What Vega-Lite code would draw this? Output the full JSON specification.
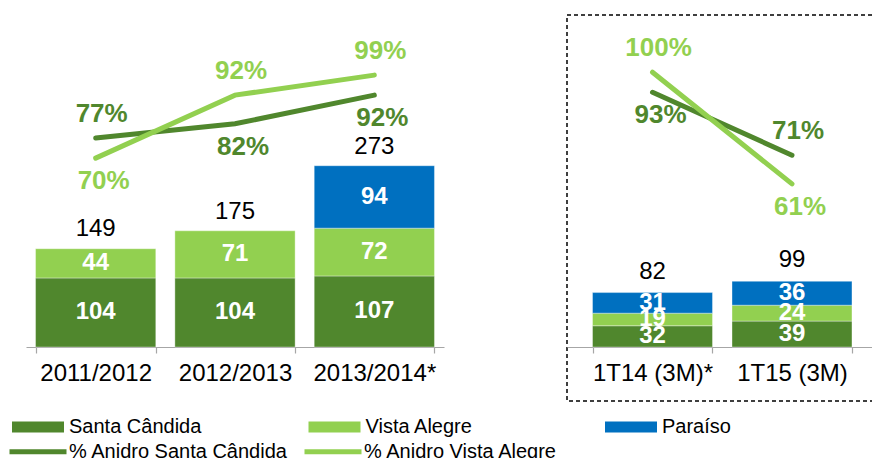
{
  "$schema": "https://vega.github.io/schema/vega-lite/v6.json",
  "padding": {"left": 25, "top": 14, "right": 0, "bottom": 6},
  "spacing": 122,
  "config": {
    "view": {"stroke": null},
    "font": "Liberation Sans",
    "axis": {"domainColor": "#A6A6A6", "domainWidth": 1.2, "tickColor": "#A6A6A6", "tickWidth": 1.2, "tickSize": 6, "tickBand": "extent", "labelFontSize": 24, "labelColor": "#000000", "labelPadding": 8, "labelAngle": 0, "grid": false, "labelFont": "Liberation Sans"},
    "legend": {"orient": "none", "title": null, "direction": "horizontal", "gridAlign": "all", "rowPadding": 2, "labelFontSize": 20, "labelFont": "Liberation Sans", "labelColor": "#000000", "labelLimit": 400, "symbolSize": 400, "labelOffset": 21, "padding": 0}
  },
  "datasets": {
    "bars": [
      {"section": "A", "period": "2011/2012", "series": "Santa Cândida", "value": 104},
      {"section": "A", "period": "2011/2012", "series": "Vista Alegre", "value": 44},
      {"section": "A", "period": "2012/2013", "series": "Santa Cândida", "value": 104},
      {"section": "A", "period": "2012/2013", "series": "Vista Alegre", "value": 71},
      {"section": "A", "period": "2013/2014*", "series": "Santa Cândida", "value": 107},
      {"section": "A", "period": "2013/2014*", "series": "Vista Alegre", "value": 72},
      {"section": "A", "period": "2013/2014*", "series": "Paraíso", "value": 94},
      {"section": "B", "period": "1T14 (3M)*", "series": "Santa Cândida", "value": 32},
      {"section": "B", "period": "1T14 (3M)*", "series": "Vista Alegre", "value": 19},
      {"section": "B", "period": "1T14 (3M)*", "series": "Paraíso", "value": 31},
      {"section": "B", "period": "1T15 (3M)", "series": "Santa Cândida", "value": 39},
      {"section": "B", "period": "1T15 (3M)", "series": "Vista Alegre", "value": 24},
      {"section": "B", "period": "1T15 (3M)", "series": "Paraíso", "value": 36}
    ],
    "totals": [
      {"section": "A", "period": "2011/2012", "total": 149},
      {"section": "A", "period": "2012/2013", "total": 175},
      {"section": "A", "period": "2013/2014*", "total": 273},
      {"section": "B", "period": "1T14 (3M)*", "total": 82},
      {"section": "B", "period": "1T15 (3M)", "total": 99}
    ],
    "pcts": [
      {"section": "A", "period": "2011/2012", "series": "% Anidro Santa Cândida", "pct": 77},
      {"section": "A", "period": "2011/2012", "series": "% Anidro Vista Alegre", "pct": 70},
      {"section": "A", "period": "2012/2013", "series": "% Anidro Santa Cândida", "pct": 82},
      {"section": "A", "period": "2012/2013", "series": "% Anidro Vista Alegre", "pct": 92},
      {"section": "A", "period": "2013/2014*", "series": "% Anidro Santa Cândida", "pct": 92},
      {"section": "A", "period": "2013/2014*", "series": "% Anidro Vista Alegre", "pct": 99},
      {"section": "B", "period": "1T14 (3M)*", "series": "% Anidro Santa Cândida", "pct": 93},
      {"section": "B", "period": "1T14 (3M)*", "series": "% Anidro Vista Alegre", "pct": 100},
      {"section": "B", "period": "1T15 (3M)", "series": "% Anidro Santa Cândida", "pct": 71},
      {"section": "B", "period": "1T15 (3M)", "series": "% Anidro Vista Alegre", "pct": 61}
    ]
  },
  "resolve": {"scale": {"fill": "shared", "stroke": "shared", "color": "shared"}, "legend": {"fill": "shared", "stroke": "shared"}},
  "hconcat": [
    {
      "width": 418,
      "height": 332,
      "view": {"stroke": null},
      "encoding": {
        "x": {"field": "period", "type": "nominal", "sort": ["2011/2012", "2012/2013", "2013/2014*"], "title": null, "scale": {"paddingInner": 0.137, "paddingOuter": 0.0685}}
      },
      "resolve": {"scale": {"y": "independent"}},
      "layer": [
        {
          "data": {"name": "bars"},
          "transform": [
            {"filter": "datum.section == 'A'"},
            {"calculate": "indexof(['Santa Cândida','Vista Alegre','Paraíso'], datum.series)", "as": "ord"},
            {"stack": "value", "groupby": ["period"], "sort": [{"field": "ord", "order": "ascending"}], "as": ["v0", "v1"]}
          ],
          "mark": {"type": "bar", "stroke": "white", "strokeWidth": 0.6, "strokeOpacity": 0.6},
          "encoding": {
            "y": {"field": "v1", "type": "quantitative", "scale": {"domain": [0, 500], "nice": false, "zero": false}, "axis": null},
            "y2": {"field": "v0"},
            "fill": {
              "field": "series", "type": "nominal",
              "scale": {"domain": ["Santa Cândida", "Vista Alegre", "Paraíso"], "range": ["#50872D", "#92D050", "#0070C0"]},
              "legend": {"legendX": 2, "legendY": 402, "columns": 3, "columnPadding": 106.5, "symbolType": "M-2.6,-0.55H2.6V0.55H-2.6Z", "symbolStrokeWidth": 0}
            }
          }
        },
        {
          "data": {"name": "bars"},
          "transform": [
            {"filter": "datum.section == 'A'"},
            {"calculate": "indexof(['Santa Cândida','Vista Alegre','Paraíso'], datum.series)", "as": "ord"},
            {"stack": "value", "groupby": ["period"], "sort": [{"field": "ord", "order": "ascending"}], "as": ["v0", "v1"]},
            {"calculate": "(datum.v0 + datum.v1) / 2", "as": "mid"}
          ],
          "mark": {"type": "text", "color": "white", "fontWeight": "bold", "fontSize": 24, "baseline": "middle"},
          "encoding": {
            "y": {"field": "mid", "type": "quantitative", "scale": {"domain": [0, 500], "nice": false, "zero": false}, "axis": null},
            "text": {"field": "value", "type": "quantitative"}
          }
        },
        {
          "data": {"name": "totals"},
          "transform": [{"filter": "datum.section == 'A'"}],
          "mark": {"type": "text", "color": "black", "fontSize": 24, "baseline": "alphabetic", "dy": -12},
          "encoding": {
            "y": {"field": "total", "type": "quantitative", "scale": {"domain": [0, 500], "nice": false, "zero": false}, "axis": null},
            "text": {"field": "total", "type": "quantitative"}
          }
        },
        {
          "data": {"name": "pcts"},
          "transform": [{"filter": "datum.section == 'A'"}],
          "mark": {"type": "line", "strokeWidth": 5, "strokeCap": "round"},
          "encoding": {
            "y": {"field": "pct", "type": "quantitative", "scale": {"domain": [4, 120], "nice": false, "zero": false}, "axis": null},
            "stroke": {
              "field": "series", "type": "nominal",
              "scale": {"domain": ["% Anidro Santa Cândida", "% Anidro Vista Alegre"], "range": ["#50872D", "#92D050"]},
              "legend": {"legendX": -0.5, "legendY": 424, "columns": 2, "columnPadding": 6, "labelOffset": 18.5, "symbolType": "M-2.85,0H2.85", "symbolStrokeWidth": 5, "symbolFillColor": "transparent"}
            }
          }
        },
        {
          "data": {"name": "pcts"},
          "transform": [
            {"filter": "datum.section == 'A'"},
            {"joinaggregate": [{"op": "max", "field": "pct", "as": "maxp"}], "groupby": ["period"]},
            {"filter": "datum.pct == datum.maxp"},
            {"calculate": "datum.pct + '%'", "as": "label"}
          ],
          "mark": {"type": "text", "fontSize": 26, "fontWeight": "bold", "baseline": "middle", "dy": -24, "dx": 6},
          "encoding": {
            "y": {"field": "pct", "type": "quantitative", "scale": {"domain": [4, 120], "nice": false, "zero": false}, "axis": null},
            "text": {"field": "label"},
            "color": {"field": "series", "type": "nominal", "scale": {"domain": ["% Anidro Santa Cândida", "% Anidro Vista Alegre"], "range": ["#50872D", "#92D050"]}, "legend": null}
          }
        },
        {
          "data": {"name": "pcts"},
          "transform": [
            {"filter": "datum.section == 'A'"},
            {"joinaggregate": [{"op": "max", "field": "pct", "as": "maxp"}], "groupby": ["period"]},
            {"filter": "datum.pct < datum.maxp"},
            {"calculate": "datum.pct + '%'", "as": "label"}
          ],
          "mark": {"type": "text", "fontSize": 26, "fontWeight": "bold", "baseline": "middle", "dy": 23, "dx": 8},
          "encoding": {
            "y": {"field": "pct", "type": "quantitative", "scale": {"domain": [4, 120], "nice": false, "zero": false}, "axis": null},
            "text": {"field": "label"},
            "color": {"field": "series", "type": "nominal", "legend": null}
          }
        }
      ]
    },
    {
      "width": 310.5,
      "height": 386,
      "view": {"stroke": "#000000", "strokeDash": [4, 3], "strokeWidth": 1.5},
      "encoding": {
        "x": {"field": "period", "type": "nominal", "sort": ["1T14 (3M)*", "1T15 (3M)"], "title": null, "scale": {"paddingInner": 0.14, "paddingOuter": 0.183}, "axis": {"offset": -54}}
      },
      "resolve": {"scale": {"y": "independent"}},
      "layer": [
        {
          "data": {"name": "bars"},
          "transform": [
            {"filter": "datum.section == 'B'"},
            {"calculate": "indexof(['Santa Cândida','Vista Alegre','Paraíso'], datum.series)", "as": "ord"},
            {"stack": "value", "groupby": ["period"], "sort": [{"field": "ord", "order": "ascending"}], "as": ["v0", "v1"]}
          ],
          "mark": {"type": "bar", "stroke": "white", "strokeWidth": 0.6, "strokeOpacity": 0.6},
          "encoding": {
            "y": {"field": "v1", "type": "quantitative", "scale": {"domain": [-81.3, 500], "nice": false, "zero": false}, "axis": null},
            "y2": {"field": "v0"},
            "fill": {"field": "series", "type": "nominal"}
          }
        },
        {
          "data": {"name": "bars"},
          "transform": [
            {"filter": "datum.section == 'B'"},
            {"calculate": "indexof(['Santa Cândida','Vista Alegre','Paraíso'], datum.series)", "as": "ord"},
            {"stack": "value", "groupby": ["period"], "sort": [{"field": "ord", "order": "ascending"}], "as": ["v0", "v1"]},
            {"calculate": "(datum.v0 + datum.v1) / 2", "as": "mid"}
          ],
          "mark": {"type": "text", "color": "white", "fontWeight": "bold", "fontSize": 24, "baseline": "middle"},
          "encoding": {
            "y": {"field": "mid", "type": "quantitative", "scale": {"domain": [-81.3, 500], "nice": false, "zero": false}, "axis": null},
            "text": {"field": "value", "type": "quantitative"}
          }
        },
        {
          "data": {"name": "totals"},
          "transform": [{"filter": "datum.section == 'B'"}],
          "mark": {"type": "text", "color": "black", "fontSize": 24, "baseline": "alphabetic", "dy": -14},
          "encoding": {
            "y": {"field": "total", "type": "quantitative", "scale": {"domain": [-81.3, 500], "nice": false, "zero": false}, "axis": null},
            "text": {"field": "total", "type": "quantitative"}
          }
        },
        {
          "data": {"name": "pcts"},
          "transform": [{"filter": "datum.section == 'B'"}],
          "mark": {"type": "line", "strokeWidth": 5, "strokeCap": "round"},
          "encoding": {
            "y": {"field": "pct", "type": "quantitative", "scale": {"domain": [-14.87, 120], "nice": false, "zero": false}, "axis": null},
            "stroke": {"field": "series", "type": "nominal"}
          }
        },
        {
          "data": {"name": "pcts"},
          "transform": [
            {"filter": "datum.section == 'B'"},
            {"joinaggregate": [{"op": "max", "field": "pct", "as": "maxp"}], "groupby": ["period"]},
            {"filter": "datum.pct == datum.maxp"},
            {"calculate": "datum.pct + '%'", "as": "label"}
          ],
          "mark": {"type": "text", "fontSize": 26, "fontWeight": "bold", "baseline": "middle", "dy": -24, "dx": 6},
          "encoding": {
            "y": {"field": "pct", "type": "quantitative", "scale": {"domain": [-14.87, 120], "nice": false, "zero": false}, "axis": null},
            "text": {"field": "label"},
            "color": {"field": "series", "type": "nominal", "legend": null}
          }
        },
        {
          "data": {"name": "pcts"},
          "transform": [
            {"filter": "datum.section == 'B'"},
            {"joinaggregate": [{"op": "max", "field": "pct", "as": "maxp"}], "groupby": ["period"]},
            {"filter": "datum.pct < datum.maxp"},
            {"calculate": "datum.pct + '%'", "as": "label"}
          ],
          "mark": {"type": "text", "fontSize": 26, "fontWeight": "bold", "baseline": "middle", "dy": 23, "dx": 8},
          "encoding": {
            "y": {"field": "pct", "type": "quantitative", "scale": {"domain": [-14.87, 120], "nice": false, "zero": false}, "axis": null},
            "text": {"field": "label"},
            "color": {"field": "series", "type": "nominal", "legend": null}
          }
        }
      ]
    }
  ]
}
